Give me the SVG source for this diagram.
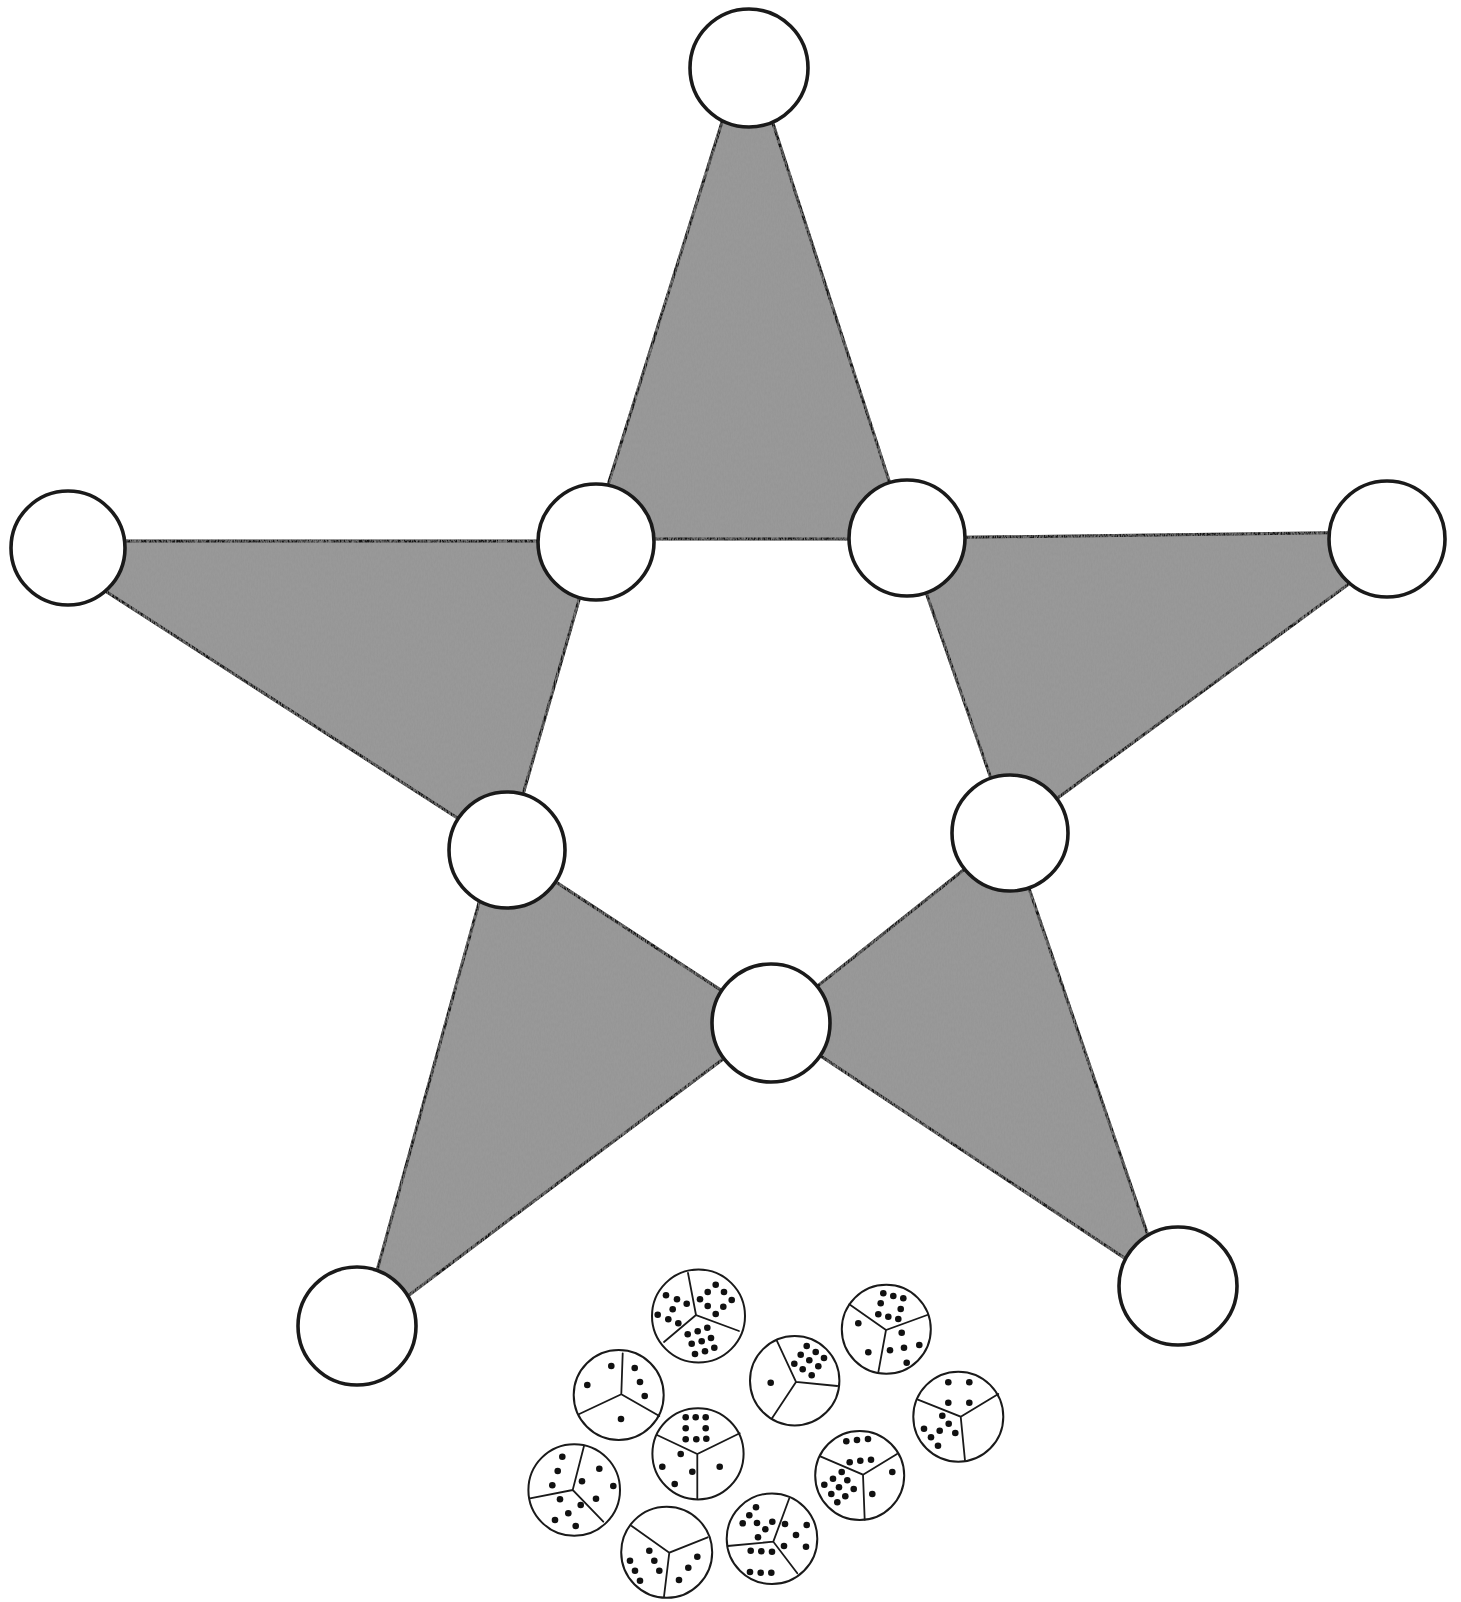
<svg xmlns="http://www.w3.org/2000/svg" width="1461" height="1602" viewBox="0 0 1461 1602">
<style>
.bg{fill:#ffffff}
.tri{fill:#999999;stroke:#151515;stroke-width:3;stroke-linejoin:round}
.big{fill:#ffffff;stroke:#1a1a1a;stroke-width:3.6}
.tok{fill:#ffffff;stroke:#1a1a1a;stroke-width:2}
.sec{fill:none;stroke:#1a1a1a;stroke-width:1.8;stroke-linecap:round}
.d{fill:#111111}
</style>
<defs>
<filter id="pencil" x="0" y="0" width="100%" height="100%">
<feTurbulence type="fractalNoise" baseFrequency="0.7 0.25" numOctaves="3" seed="5" result="n"/>
<feColorMatrix in="n" type="matrix" values="0 0 0 0 0.3  0 0 0 0 0.3  0 0 0 0 0.3  1.6 0 0 0 -0.55" result="g"/>
<feComposite in="g" in2="SourceAlpha" operator="in" result="gi"/>
<feMerge><feMergeNode in="SourceGraphic"/><feMergeNode in="gi"/></feMerge>
</filter>
</defs>
<rect class="bg" x="0" y="0" width="1461" height="1602"/>
<g id="connectors">
<g id="star" filter="url(#pencil)">
<polygon id="tri-top" class="tri" points="739,68 755,68 908,539 591,539"/>
<polygon id="tri-left" class="tri" points="68,541 596,541 507,850 68,567"/>
<polygon id="tri-right" class="tri" points="907,538 1387,532 1387,556 1010,833"/>
<polygon id="tri-bottom-left" class="tri" points="495,845 507,850 771,1023 360,1332"/>
<polygon id="tri-bottom-right" class="tri" points="771,1023 1010,833 1165,1285"/>
</g>
</g>
<g id="node-top"><circle class="big" cx="749" cy="68" r="59"/></g>
<g id="node-inner-tl"><circle class="big" cx="596" cy="542" r="58"/></g>
<g id="node-inner-tr"><circle class="big" cx="907" cy="538" r="58"/></g>
<g id="node-left"><circle class="big" cx="68" cy="548" r="57"/></g>
<g id="node-right"><circle class="big" cx="1387" cy="539" r="58"/></g>
<g id="node-inner-bl"><circle class="big" cx="507" cy="850" r="58"/></g>
<g id="node-inner-br"><circle class="big" cx="1010" cy="833" r="58"/></g>
<g id="node-inner-b"><circle class="big" cx="771" cy="1023" r="59"/></g>
<g id="node-bottom-left"><circle class="big" cx="357" cy="1326" r="59"/></g>
<g id="node-bottom-right"><circle class="big" cx="1178" cy="1286" r="59"/></g>

<g id="token-1">
<circle class="tok" cx="698.5" cy="1316" r="46.5"/>
<path class="sec" d="M688,1273 L696,1315 L739,1331 M696,1315 L664,1342"/>
<circle class="d" cx="666" cy="1295.3" r="3.3"/><circle class="d" cx="677" cy="1299.3" r="3.3"/><circle class="d" cx="686.7" cy="1303.7" r="3.3"/><circle class="d" cx="672.7" cy="1309.3" r="3.3"/><circle class="d" cx="657.7" cy="1314.7" r="3.3"/><circle class="d" cx="668.3" cy="1319.3" r="3.3"/><circle class="d" cx="678.3" cy="1323.3" r="3.3"/>
<circle class="d" cx="715.7" cy="1284.7" r="3.3"/><circle class="d" cx="707.7" cy="1292" r="3.3"/><circle class="d" cx="724" cy="1292" r="3.3"/><circle class="d" cx="700" cy="1299.3" r="3.3"/><circle class="d" cx="731.7" cy="1300" r="3.3"/><circle class="d" cx="707.7" cy="1306" r="3.3"/><circle class="d" cx="723.3" cy="1306.7" r="3.3"/><circle class="d" cx="715.7" cy="1314" r="3.3"/>
<circle class="d" cx="687.7" cy="1334.3" r="3.3"/><circle class="d" cx="697.7" cy="1331.3" r="3.3"/><circle class="d" cx="707.3" cy="1327.7" r="3.3"/><circle class="d" cx="691.7" cy="1343.7" r="3.3"/><circle class="d" cx="701.7" cy="1341.3" r="3.3"/><circle class="d" cx="711" cy="1338" r="3.3"/><circle class="d" cx="695" cy="1354" r="3.3"/><circle class="d" cx="705" cy="1351.3" r="3.3"/><circle class="d" cx="714.3" cy="1347.7" r="3.3"/>
</g>

<g id="token-2">
<circle class="tok" cx="886.3" cy="1329.3" r="44.5"/>
<path class="sec" d="M849.3,1304.3 L886,1330 L927.3,1315 M886,1330 L878.3,1372.3"/>
<circle class="d" cx="883.3" cy="1293.3" r="3.3"/><circle class="d" cx="893.3" cy="1296" r="3.3"/><circle class="d" cx="903.3" cy="1298.3" r="3.3"/><circle class="d" cx="880.7" cy="1303.3" r="3.3"/><circle class="d" cx="900.7" cy="1309" r="3.3"/><circle class="d" cx="878.3" cy="1314.3" r="3.3"/><circle class="d" cx="888.3" cy="1316.7" r="3.3"/><circle class="d" cx="898.3" cy="1319" r="3.3"/>
<circle class="d" cx="858.3" cy="1323.3" r="3.3"/><circle class="d" cx="868.3" cy="1352.3" r="3.3"/>
<circle class="d" cx="901.7" cy="1332.7" r="3.3"/><circle class="d" cx="890" cy="1350.3" r="3.3"/><circle class="d" cx="904" cy="1347.7" r="3.3"/><circle class="d" cx="919.3" cy="1345" r="3.3"/><circle class="d" cx="906.7" cy="1362.7" r="3.3"/>
</g>

<g id="token-3">
<circle class="tok" cx="794.7" cy="1380.7" r="44.7"/>
<path class="sec" d="M776.7,1340.3 L796,1382 L837.3,1386 M796,1382 L771.7,1418.7"/>
<circle class="d" cx="770.7" cy="1382.7" r="3.3"/>
<circle class="d" cx="806.7" cy="1346" r="3.3"/><circle class="d" cx="800.7" cy="1354.7" r="3.3"/><circle class="d" cx="815.7" cy="1352" r="3.3"/><circle class="d" cx="794.3" cy="1363.7" r="3.3"/><circle class="d" cx="809.3" cy="1360.3" r="3.3"/><circle class="d" cx="824" cy="1358" r="3.3"/><circle class="d" cx="802.7" cy="1369.3" r="3.3"/><circle class="d" cx="818.3" cy="1366.3" r="3.3"/><circle class="d" cx="811.7" cy="1375.3" r="3.3"/>
</g>

<g id="token-4">
<circle class="tok" cx="618.7" cy="1395" r="45"/>
<path class="sec" d="M622.7,1353.3 L621.3,1394.3 L659.3,1416 M621.3,1394.3 L579.3,1414"/>
<circle class="d" cx="611.3" cy="1366" r="3.3"/><circle class="d" cx="587.3" cy="1385" r="3.3"/>
<circle class="d" cx="634.7" cy="1368" r="3.3"/><circle class="d" cx="640" cy="1382" r="3.3"/><circle class="d" cx="644.7" cy="1396" r="3.3"/>
<circle class="d" cx="621" cy="1419" r="3.3"/>
</g>

<g id="token-5">
<circle class="tok" cx="958.3" cy="1416.7" r="45"/>
<path class="sec" d="M917.3,1399.3 L960.7,1416.7 L998.3,1394 M960.7,1416.7 L965,1460.7"/>
<circle class="d" cx="948.3" cy="1382.3" r="3.3"/><circle class="d" cx="969.3" cy="1382.3" r="3.3"/><circle class="d" cx="948.3" cy="1402.7" r="3.3"/><circle class="d" cx="969.3" cy="1402.7" r="3.3"/>
<circle class="d" cx="942.3" cy="1415.7" r="3.3"/><circle class="d" cx="948.7" cy="1423.7" r="3.3"/><circle class="d" cx="955.3" cy="1433" r="3.3"/><circle class="d" cx="924" cy="1428.7" r="3.3"/><circle class="d" cx="939.7" cy="1430.7" r="3.3"/><circle class="d" cx="931" cy="1437.3" r="3.3"/><circle class="d" cx="938" cy="1445.7" r="3.3"/>
</g>

<g id="token-6">
<circle class="tok" cx="698" cy="1453.8" r="45.6"/>
<path class="sec" d="M657,1435 L697.3,1454 L739.7,1433.3 M697.3,1454 L697.3,1498.3"/>
<circle class="d" cx="685.7" cy="1417.3" r="3.3"/><circle class="d" cx="695.7" cy="1417.3" r="3.3"/><circle class="d" cx="705.7" cy="1417.3" r="3.3"/><circle class="d" cx="685.7" cy="1428.3" r="3.3"/><circle class="d" cx="705.7" cy="1428.3" r="3.3"/><circle class="d" cx="685.7" cy="1439.3" r="3.3"/><circle class="d" cx="696.3" cy="1439.3" r="3.3"/><circle class="d" cx="706.3" cy="1438.7" r="3.3"/>
<circle class="d" cx="680.7" cy="1454" r="3.3"/><circle class="d" cx="662.3" cy="1466.7" r="3.3"/><circle class="d" cx="692.3" cy="1471.7" r="3.3"/><circle class="d" cx="674.7" cy="1484" r="3.3"/>
<circle class="d" cx="719.7" cy="1466.7" r="3.3"/>
</g>

<g id="token-7">
<circle class="tok" cx="859.7" cy="1475.5" r="44.5"/>
<path class="sec" d="M820.3,1456.3 L863,1474.7 L897,1454 M863,1474.7 L864.7,1519.7"/>
<circle class="d" cx="846.3" cy="1441.3" r="3.3"/><circle class="d" cx="857" cy="1440" r="3.3"/><circle class="d" cx="868" cy="1439" r="3.3"/><circle class="d" cx="849.7" cy="1462.3" r="3.3"/><circle class="d" cx="860.3" cy="1460.7" r="3.3"/><circle class="d" cx="871" cy="1459.7" r="3.3"/>
<circle class="d" cx="841.7" cy="1472" r="3.3"/><circle class="d" cx="833" cy="1478.7" r="3.3"/><circle class="d" cx="847.3" cy="1480.3" r="3.3"/><circle class="d" cx="824.3" cy="1484.7" r="3.3"/><circle class="d" cx="839" cy="1487.3" r="3.3"/><circle class="d" cx="853.7" cy="1489" r="3.3"/><circle class="d" cx="831.3" cy="1494" r="3.3"/><circle class="d" cx="845.3" cy="1496.3" r="3.3"/><circle class="d" cx="837.3" cy="1502.3" r="3.3"/>
<circle class="d" cx="892.3" cy="1472" r="3.3"/><circle class="d" cx="872.3" cy="1494" r="3.3"/>
</g>

<g id="token-8">
<circle class="tok" cx="574.2" cy="1490" r="45.8"/>
<path class="sec" d="M584,1446 L572.7,1490 L603.3,1521.7 M572.7,1490 L530,1498.3"/>
<circle class="d" cx="562.3" cy="1456.7" r="3.3"/><circle class="d" cx="557.7" cy="1471" r="3.3"/><circle class="d" cx="552.3" cy="1485.3" r="3.3"/>
<circle class="d" cx="599.3" cy="1468.7" r="3.3"/><circle class="d" cx="582" cy="1481.3" r="3.3"/><circle class="d" cx="613.3" cy="1486" r="3.3"/><circle class="d" cx="596" cy="1498.7" r="3.3"/>
<circle class="d" cx="560" cy="1499.3" r="3.3"/><circle class="d" cx="580.7" cy="1505" r="3.3"/><circle class="d" cx="568.3" cy="1513.3" r="3.3"/><circle class="d" cx="555" cy="1520" r="3.3"/><circle class="d" cx="575.7" cy="1526" r="3.3"/>
</g>

<g id="token-9">
<circle class="tok" cx="666.7" cy="1552.3" r="45.5"/>
<path class="sec" d="M631.7,1526 L669.3,1552.7 L707.7,1537.3 M669.3,1552.7 L664,1596.7"/>
<circle class="d" cx="649.3" cy="1550.7" r="3.3"/><circle class="d" cx="654.3" cy="1560.7" r="3.3"/><circle class="d" cx="659.3" cy="1570.7" r="3.3"/><circle class="d" cx="630" cy="1560.7" r="3.3"/><circle class="d" cx="635" cy="1570.7" r="3.3"/><circle class="d" cx="640" cy="1580.7" r="3.3"/>
<circle class="d" cx="697.3" cy="1556.7" r="3.3"/><circle class="d" cx="688.3" cy="1567.7" r="3.3"/><circle class="d" cx="679" cy="1580" r="3.3"/>
</g>

<g id="token-10">
<circle class="tok" cx="772" cy="1538.7" r="45.3"/>
<path class="sec" d="M789.3,1498.3 L773.3,1541.7 L797.3,1573.3 M773.3,1541.7 L727.5,1546"/>
<circle class="d" cx="756" cy="1507.3" r="3.3"/><circle class="d" cx="749.3" cy="1515.3" r="3.3"/><circle class="d" cx="742.7" cy="1523.3" r="3.3"/><circle class="d" cx="757" cy="1523" r="3.3"/><circle class="d" cx="772.3" cy="1521.7" r="3.3"/><circle class="d" cx="765.3" cy="1529.3" r="3.3"/><circle class="d" cx="758" cy="1537.3" r="3.3"/>
<circle class="d" cx="785" cy="1524" r="3.3"/><circle class="d" cx="806.7" cy="1525" r="3.3"/><circle class="d" cx="796" cy="1535" r="3.3"/><circle class="d" cx="784" cy="1546" r="3.3"/><circle class="d" cx="806" cy="1546.7" r="3.3"/>
<circle class="d" cx="750.7" cy="1550.7" r="3.3"/><circle class="d" cx="761.3" cy="1551.3" r="3.3"/><circle class="d" cx="772" cy="1551.7" r="3.3"/><circle class="d" cx="750" cy="1572" r="3.3"/><circle class="d" cx="760.7" cy="1572.7" r="3.3"/><circle class="d" cx="771.3" cy="1572.7" r="3.3"/>
</g>
</svg>
